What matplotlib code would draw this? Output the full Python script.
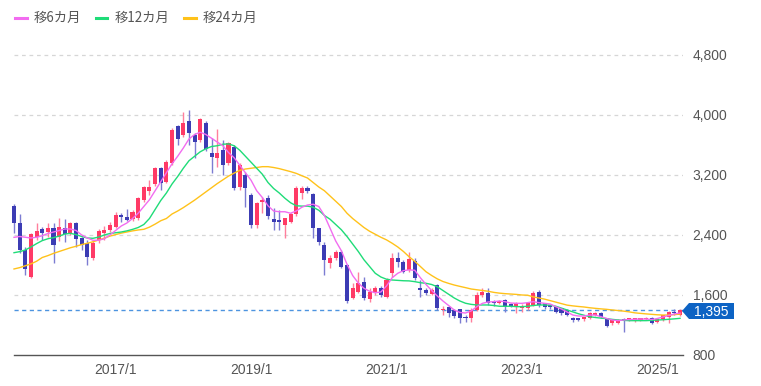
#Monthly candle chart with moving averages

import numpy as np
import matplotlib.pyplot as plt
from matplotlib.lines import Line2D
from matplotlib.patches import Polygon

# months start 2015/7
months = [f"{2015 + (6 + k) // 12}/{(6 + k) % 12 + 1}" for k in range(119)]

opens = [2787, 2556, 2200, 1844, 2378, 2476, 2440, 2493, 2370, 2500,
         2422, 2556, 2356, 2298, 2089, 2333, 2431, 2467, 2511, 2667,
         2636, 2620, 2622, 2867, 2990, 3080, 3289, 3111, 3356, 3853,
         3733, 3924, 3733, 3667, 3898, 3490, 3430, 3533, 3356, 3578,
         3044, 3200, 2933, 2533, 2840, 2890, 2620, 2600, 2533, 2578,
         2676, 2960, 3022, 2942, 2489, 2267, 2022, 2089, 2169, 2000,
         1564, 1644, 1778, 1547, 1622, 1700, 1578, 1889, 2089, 2044,
         1933, 2057, 1700, 1667, 1613, 1733, 1400, 1444, 1400, 1409,
         1311, 1289, 1400, 1600, 1622, 1510, 1500, 1533, 1470, 1444,
         1422, 1422, 1467, 1644, 1489, 1467, 1436, 1422, 1400, 1289,
         1289, 1276, 1289, 1333, 1364, 1289, 1222, 1231, 1276, 1267,
         1260, 1270, 1280, 1289, 1244, 1276, 1311, 1378, 1333]
highs = [2813, 2680, 2244, 2430, 2556, 2502, 2560, 2560, 2627, 2609,
         2578, 2578, 2378, 2330, 2333, 2480, 2520, 2580, 2713, 2700,
         2742, 2740, 2907, 3060, 3133, 3310, 3311, 3400, 3830, 3867,
         4044, 4067, 3756, 3956, 3920, 3689, 3809, 3667, 3640, 3600,
         3360, 3240, 2960, 2840, 2911, 2930, 2760, 2730, 2630, 2700,
         3050, 3060, 3050, 2960, 2500, 2311, 2133, 2200, 2200, 2020,
         1756, 1911, 1844, 1689, 1720, 1720, 1830, 2156, 2178, 2067,
         2178, 2089, 1800, 1690, 1690, 1750, 1450, 1460, 1420, 1420,
         1330, 1422, 1644, 1689, 1689, 1530, 1540, 1550, 1490, 1510,
         1480, 1510, 1653, 1667, 1500, 1480, 1450, 1430, 1410, 1311,
         1300, 1310, 1370, 1380, 1380, 1300, 1280, 1280, 1290, 1300,
         1300, 1300, 1310, 1310, 1290, 1340, 1390, 1413, 1410]
lows = [2431, 2156, 1867, 1830, 2333, 2333, 2380, 2030, 2324, 2311,
        2400, 2244, 2200, 2000, 2067, 2300, 2333, 2440, 2500, 2580,
        2590, 2590, 2600, 2840, 2933, 3060, 3000, 3090, 3330, 3600,
        3711, 3600, 3422, 3640, 3520, 3222, 3311, 3200, 3330, 3000,
        3000, 2778, 2500, 2500, 2689, 2620, 2470, 2470, 2364, 2560,
        2660, 2880, 2960, 2356, 2270, 1867, 1956, 2067, 1956, 1490,
        1544, 1622, 1533, 1511, 1600, 1580, 1560, 1844, 1978, 1889,
        1911, 1800, 1580, 1600, 1600, 1400, 1330, 1311, 1290, 1222,
        1240, 1244, 1390, 1580, 1467, 1460, 1480, 1370, 1440, 1356,
        1380, 1400, 1450, 1444, 1420, 1420, 1360, 1333, 1320, 1244,
        1250, 1260, 1280, 1320, 1300, 1170, 1200, 1220, 1111, 1250,
        1240, 1260, 1270, 1210, 1230, 1260, 1227, 1330, 1320]
closes = [2556, 2200, 1942, 2409, 2458, 2431, 2490, 2267, 2502, 2420,
          2556, 2342, 2267, 2111, 2289, 2458, 2467, 2533, 2667, 2636,
          2600, 2710, 2889, 3036, 3040, 3289, 3089, 3378, 3800, 3676,
          3889, 3756, 3644, 3942, 3542, 3444, 3490, 3333, 3622, 3022,
          3333, 3022, 2533, 2822, 2870, 2660, 2580, 2570, 2622, 2676,
          3031, 3030, 2990, 2489, 2311, 2067, 2089, 2169, 1978, 1520,
          1689, 1756, 1556, 1644, 1689, 1600, 1800, 2089, 2044, 1911,
          2080, 1822, 1670, 1627, 1667, 1422, 1420, 1364, 1320, 1289,
          1289, 1400, 1600, 1644, 1489, 1490, 1520, 1444, 1460, 1493,
          1444, 1489, 1622, 1467, 1444, 1444, 1378, 1356, 1333, 1267,
          1267, 1302, 1356, 1364, 1311, 1187, 1267, 1267, 1267, 1289,
          1290, 1290, 1300, 1222, 1276, 1333, 1378, 1356, 1395]

ma6 = [2369, 2380, 2370, 2360, 2370, 2390, 2420, 2440, 2460, 2480,
       2480, 2460, 2400, 2360, 2330, 2330, 2350, 2400, 2460, 2520,
       2560, 2620, 2690, 2780, 2870, 2990, 3110, 3230, 3350, 3450,
       3560, 3680, 3740, 3770, 3740, 3690, 3640, 3590, 3500, 3430,
       3330, 3230, 3130, 2990, 2900, 2790, 2720, 2710, 2710, 2690,
       2720, 2770, 2800, 2810, 2780, 2660, 2490, 2320, 2190, 2010,
       1860, 1760, 1690, 1650, 1630, 1640, 1720, 1830, 1890, 1925,
       1935, 1930, 1830, 1740, 1660, 1587, 1520, 1460, 1400, 1367,
       1360, 1387, 1444, 1489, 1507, 1511, 1520, 1511, 1493, 1489,
       1489, 1498, 1511, 1498, 1489, 1480, 1444, 1413, 1373, 1333,
       1320, 1320, 1333, 1333, 1311, 1287, 1267, 1258, 1267, 1273,
       1276, 1280, 1280, 1273, 1287, 1307, 1327, 1347, 1360]
ma12 = [2164, 2178, 2200, 2240, 2285, 2325, 2350, 2365, 2385, 2413,
        2422, 2405, 2380, 2360, 2356, 2372, 2400, 2420, 2430, 2440,
        2455, 2475, 2500, 2540, 2620, 2740, 2860, 2960, 3080, 3180,
        3290, 3390, 3450, 3510, 3550, 3580, 3590, 3610, 3615, 3590,
        3530, 3450, 3370, 3290, 3210, 3100, 3020, 2960, 2890, 2830,
        2790, 2785, 2785, 2770, 2730, 2660, 2610, 2540, 2470, 2380,
        2280, 2180, 2070, 1980, 1890, 1840, 1810, 1800, 1795, 1790,
        1788, 1778, 1764, 1756, 1740, 1710, 1660, 1610, 1560, 1520,
        1490, 1475, 1467, 1467, 1467, 1460, 1450, 1450, 1450, 1445,
        1444, 1450, 1460, 1467, 1467, 1465, 1450, 1425, 1400, 1375,
        1350, 1330, 1311, 1300, 1292, 1285, 1275, 1267, 1262, 1258,
        1258, 1258, 1258, 1262, 1267, 1270, 1276, 1282, 1289]
ma24 = [1947, 1965, 1990, 2015, 2050, 2100, 2125, 2155, 2180, 2205,
        2230, 2250, 2273, 2290, 2310, 2333, 2358, 2385, 2405, 2425,
        2440, 2455, 2467, 2476, 2505, 2545, 2590, 2620, 2680, 2720,
        2765, 2815, 2865, 2920, 2975, 3030, 3085, 3135, 3185, 3225,
        3262, 3280, 3290, 3300, 3311, 3311, 3300, 3285, 3265, 3245,
        3222, 3190, 3160, 3100, 3040, 2990, 2920, 2850, 2780, 2690,
        2620, 2560, 2500, 2450, 2410, 2370, 2335, 2290, 2240, 2180,
        2110, 2050, 1980, 1910, 1860, 1815, 1780, 1755, 1733, 1715,
        1698, 1680, 1670, 1660, 1650, 1635, 1625, 1618, 1613, 1608,
        1600, 1597, 1575, 1560, 1545, 1525, 1505, 1485, 1465, 1455,
        1447, 1440, 1430, 1422, 1415, 1409, 1400, 1393, 1385, 1375,
        1362, 1355, 1348, 1342, 1336, 1333, 1333, 1338, 1345]

last_price = 1395
tick_months = ["2017/1", "2019/1", "2021/1", "2023/1", "2025/1"]
y_ticks = [800, 1600, 2400, 3200, 4000, 4800]
legend_labels = ["移6カ月", "移12カ月", "移24カ月"]
ma_colors = ["#f26cf0", "#1fdc78", "#ffc21a"]

up_col = "#ff3a66"
down_col = "#3c3cb4"
up_wick = "#ff7f9c"
down_wick = "#7c7cd2"

W, H = 761, 386
def fpx(x, y):
    return (x / W, 1 - y / H)

fig = plt.figure(figsize=(W / 100, H / 100), dpi=100)
ax = fig.add_axes([10 / W, (H - 355) / H, 673 / W, 315 / H])

x = np.arange(len(months))
o = np.array(opens)
c = np.array(closes)
up = c >= o
xmax = 118.53

# grid
ax.hlines(y_ticks[1:], 0, xmax, colors="#d6d6d6", linestyles=(0, (3, 3)), lw=0.9, zorder=0)
ax.hlines(last_price, 0, xmax, colors="#4d94e0", linestyles=(0, (3, 2.5)), lw=1.0, zorder=1)

# candles
ax.vlines(x[up], np.array(lows)[up], np.array(highs)[up], colors=up_wick, lw=1.0, zorder=2)
ax.vlines(x[~up], np.array(lows)[~up], np.array(highs)[~up], colors=down_wick, lw=1.0, zorder=2)
body_h = np.maximum(np.abs(c - o), 14)
ax.bar(x[up], body_h[up], bottom=np.minimum(o, c)[up], width=0.72, color=up_col, lw=0, zorder=3)
ax.bar(x[~up], body_h[~up], bottom=np.minimum(o, c)[~up], width=0.72, color=down_col, lw=0, zorder=3)

# moving averages
for ma, col in zip([ma24, ma12, ma6], ma_colors[::-1]):
    ax.plot(x, ma, color=col, lw=1.0, zorder=4)

ax.set_xlim(-0.709, xmax)
ax.set_ylim(800, 5000)
for s in ["top", "left", "right"]:
    ax.spines[s].set_visible(False)
ax.spines["bottom"].set_color("#555555")
ax.spines["bottom"].set_linewidth(1.0)
ax.spines["bottom"].set_bounds(0, xmax)

ax.yaxis.tick_right()
ax.set_yticks(y_ticks)
ax.set_yticklabels([f"{v:,}" for v in y_ticks])
ax.set_xticks([months.index(m) for m in tick_months])
ax.set_xticklabels(tick_months)
ax.tick_params(axis="y", length=0, pad=7, labelsize=10, labelcolor="#555555")
ax.tick_params(axis="x", length=0, pad=6, labelsize=10, labelcolor="#555555")
for lab in ax.get_xticklabels() + ax.get_yticklabels():
    lab.set_fontfamily("Liberation Sans")

# price tag
tag = Polygon([fpx(682, 311), fpx(689, 303), fpx(734, 303), fpx(734, 319), fpx(689, 319)],
              closed=True, transform=fig.transFigure, facecolor="#0d63c4", edgecolor="none")
fig.patches.append(tag)
fig.text(*fpx(711.5, 311.5), f"{last_price:,}", color="white", fontsize=10,
         family="Liberation Sans", ha="center", va="center")

# legend
leg_x = [(15, 27, 34), (96, 107, 115), (184, 196, 203)]
for (x0, x1, tx), lab, col in zip(leg_x, legend_labels, ma_colors):
    (a, b), (cc, d) = fpx(x0, 18), fpx(x1, 18)
    fig.add_artist(Line2D([a, cc], [b, d], transform=fig.transFigure, color=col, lw=2.2))
    fig.text(*fpx(tx, 18), lab, color="#555555", fontsize=9.6,
             family=["Noto Sans CJK JP", "DejaVu Sans"], ha="left", va="center")

fig.savefig("out.png", dpi=100)
